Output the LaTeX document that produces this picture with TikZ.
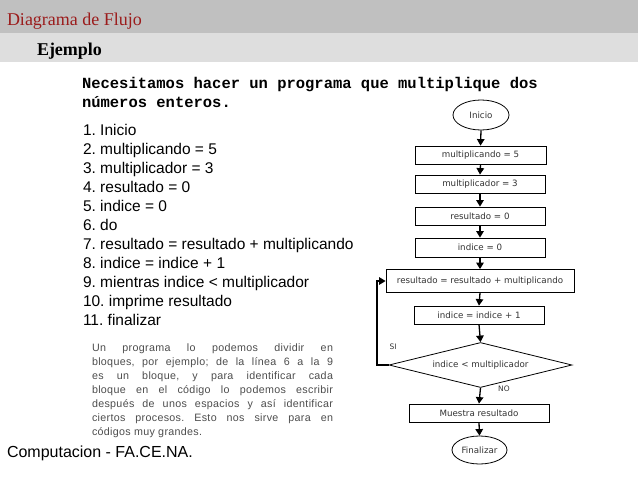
\documentclass[tikz,border=0pt]{standalone}
\usepackage{fontspec}
\setmainfont{Liberation Serif}
\setsansfont{Liberation Sans}
\setmonofont{Liberation Mono}
\newfontfamily\chartfont{DejaVu Sans}
\newfontfamily\parafont[LetterSpace=3]{Liberation Sans}
\usetikzlibrary{shapes.geometric,arrows.meta}
\definecolor{bandA}{HTML}{C0C0C0}
\definecolor{bandB}{HTML}{DEDEDE}
\definecolor{titlered}{HTML}{9B1C1C}
\definecolor{paragray}{HTML}{4D4D4D}
\definecolor{charttext}{HTML}{333333}
\tikzset{
  txt/.style={anchor=base west, inner sep=0pt, outer sep=0pt},
  listitem/.style={txt, font=\frenchspacing\sffamily\fontsize{15.5}{19}\selectfont},
  paraline/.style={txt, font=\frenchspacing\parafont\fontsize{10.7}{14}\selectfont, text=paragray},
  monoline/.style={txt, font=\frenchspacing\ttfamily\bfseries\fontsize{15.5}{19}\selectfont},
  chartfnt/.style={font=\chartfont\fontsize{8.7}{10}\selectfont, text=charttext},
  box/.style={draw, line width=0.8pt, inner sep=0pt, chartfnt},
  term/.style={ellipse, draw, line width=0.8pt, inner sep=0pt, chartfnt},
  dec/.style={diamond, aspect=4, draw, line width=0.8pt, inner sep=0pt, chartfnt},
  arr/.style={line width=1.3pt, -{Triangle[width=7.5pt,length=6.5pt]}},
  lbl/.style={inner sep=0pt, font=\chartfont\fontsize{7.5}{9}\selectfont, text=charttext}
}
\begin{document}
\begin{tikzpicture}[x=1pt,y=-1pt]
\useasboundingbox (0,0) rectangle (638,479);
\fill[white] (0,0) rectangle (638,479);
\fill[bandA] (0,0) rectangle (638,33);
\fill[bandB] (0,33) rectangle (638,62);
\node[txt, font=\fontsize{18}{20}\selectfont, text=titlered] (title) at (7,25) {Diagrama de Flujo};
\node[txt, font=\bfseries\fontsize{18}{20}\selectfont] (ejemplo) at (37,55) {Ejemplo};

\node[monoline] (m1) at (82,88) {\makebox[501pt][s]{Necesitamos hacer un programa que multiplique dos}};
\node[monoline] (m2) at (82,107) {números enteros.};

\node[listitem] (l1) at (83,135) {1. Inicio};
\node[listitem] (l2) at (83,154) {2. multiplicando = 5};
\node[listitem] (l3) at (83,173) {3. multiplicador = 3};
\node[listitem] (l4) at (83,192) {4. resultado = 0};
\node[listitem] (l5) at (83,211) {5. indice = 0};
\node[listitem] (l6) at (83,230) {6. do};
\node[listitem] (l7) at (83,249) {7. resultado = resultado + multiplicando};
\node[listitem] (l8) at (83,268) {8. indice = indice + 1};
\node[listitem] (l9) at (83,287) {9. mientras indice < multiplicador};
\node[listitem] (l10) at (83,306) {10. imprime resultado};
\node[listitem] (l11) at (83,325) {11. finalizar};

\node[paraline] (p1) at (92,351) {\makebox[241pt][s]{Un programa lo podemos dividir en}};
\node[paraline] (p2) at (92,365) {\makebox[241pt][s]{bloques, por ejemplo; de la línea 6 a la 9}};
\node[paraline] (p3) at (92,379) {\makebox[241pt][s]{es un bloque, y para identificar cada}};
\node[paraline] (p4) at (92,393) {\makebox[241pt][s]{bloque en el código lo podemos escribir}};
\node[paraline] (p5) at (92,407) {\makebox[241pt][s]{después de unos espacios y así identificar}};
\node[paraline] (p6) at (92,421) {\makebox[241pt][s]{ciertos procesos. Esto nos sirve para en}};
\node[paraline] (p7) at (92,435) {códigos muy grandes.};

\node[txt, font=\frenchspacing\sffamily\fontsize{16}{18}\selectfont] (foot) at (7,457) {Computacion - FA.CE.NA.};

% flowchart
\node[term, minimum width=56pt, minimum height=30pt] (inicio) at (481,115) {Inicio};
\node[box, minimum width=131pt, minimum height=18pt] (b1) at (480.5,155) {multiplicando = 5};
\node[box, minimum width=130pt, minimum height=18pt] (b2) at (480,184) {multiplicador = 3};
\node[box, minimum width=130pt, minimum height=18pt] (b3) at (480,216) {resultado = 0};
\node[box, minimum width=130pt, minimum height=19pt] (b4) at (480,247.5) {indice = 0};
\node[box, minimum width=188pt, minimum height=23pt] (b5) at (480,281) {resultado = resultado + multiplicando};
\node[box, minimum width=130pt, minimum height=18pt] (b6) at (479,315) {indice = indice + 1};
\node[dec, minimum width=183pt, minimum height=45pt] (d) at (480.5,365) {indice < multiplicador};
\node[box, minimum width=140pt, minimum height=18pt] (b7) at (479,413) {Muestra resultado};
\node[term, minimum width=55pt, minimum height=28pt] (fin) at (479.5,450) {Finalizar};

\draw[arr] (inicio.south) -- (b1.north);
\draw[arr] (b1.south) -- (b2.north);
\draw[arr] (b2.south) -- (b3.north);
\draw[arr] (b3.south) -- (b4.north);
\draw[arr] (b4.south) -- (b5.north);
\draw[arr] (b5.south) -- (b6.north);
\draw[arr] (b6.south) -- (d.north);
\draw[arr] (d.south) -- (b7.north);
\draw[arr] (b7.south) -- (fin.north);
\coordinate (loopc) at (377,365);
\draw[arr] (d.west) -- (loopc) |- (b5.west);
\node[lbl] (si) at (393,347) {SI};
\node[lbl] (no) at (504,389) {NO};
\end{tikzpicture}
\end{document}
